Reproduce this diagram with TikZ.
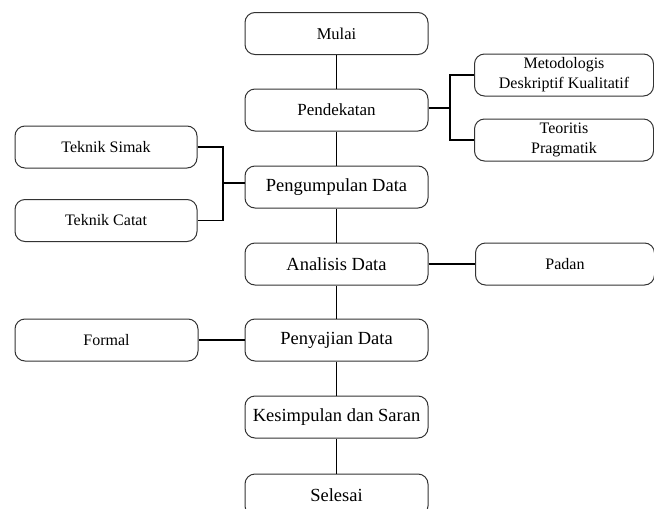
\documentclass[tikz,border=0pt]{standalone}
\usepackage{fontspec}
\setmainfont{Liberation Serif}
\usepackage{tikz}
\tikzstyle{box}=[draw=black!80, line width=1pt, rounded corners=10pt,
                  minimum width=183pt, minimum height=42pt, align=center,
                  inner sep=2pt, font=\fontsize{18.5}{20}\selectfont]
\tikzstyle{sbox}=[box, minimum width=179pt, font=\fontsize{16}{20}\selectfont]
\tikzstyle{link}=[draw=black, line width=1.7pt]

\begin{document}
\begin{tikzpicture}[x=1pt,y=-1pt]
      \useasboundingbox (0,0) rectangle (654,509);

      \node[box, font=\fontsize{16.5}{20}\selectfont] (a1) at (336.5,33.5) {Mulai};
      \node[box, font=\fontsize{17}{20}\selectfont] (a2) at (336.5,110) {Pendekatan};
      \node[box] (a3) at (336.5,187) {Pengumpulan Data};
      \node[box] (a4) at (336.5,264) {Analisis Data};
      \node[box] (a5) at (336.5,340) {Penyajian Data};
      \node[box] (a6) at (336.5,417) {Kesimpulan dan Saran};
      \node[box] (a7) at (336.5,495) {Selesai};

      \node[sbox] (r1) at (564,75) {Metodologis\\Deskriptif Kualitatif};
      \node[sbox] (r2) at (564,140) {Teoritis\\Pragmatik};
      \node[sbox] (r3) at (565,264) {Padan};

      \node[sbox, minimum width=182pt] (l1) at (106,147) {Teknik Simak};
      \node[sbox, minimum width=182pt] (l2) at (106,220.5) {Teknik Catat};
      \node[sbox, minimum width=183pt] (l3) at (106.5,340) {Formal};

      \coordinate (jr) at (450,108);
      \coordinate (jl) at (223,183);

      \draw[link] (a1) -- (a2);
      \draw[link] (a2) -- (a3);
      \draw[link] (a3) -- (a4);
      \draw[link] (a4) -- (a5);
      \draw[link] (a5) -- (a6);
      \draw[link] (a6) -- (a7);

      \draw[link] (a2.east |- jr) -- (jr);
      \draw[link] (r1.west) -| (jr) |- (r2.west);

      \draw[link] (a3.west |- jl) -- (jl);
      \draw[link] (l1.east) -| (jl) |- (l2.east);

      \draw[link] (a4) -- (r3);
      \draw[link] (a5) -- (l3);
    \end{tikzpicture}
\end{document}
